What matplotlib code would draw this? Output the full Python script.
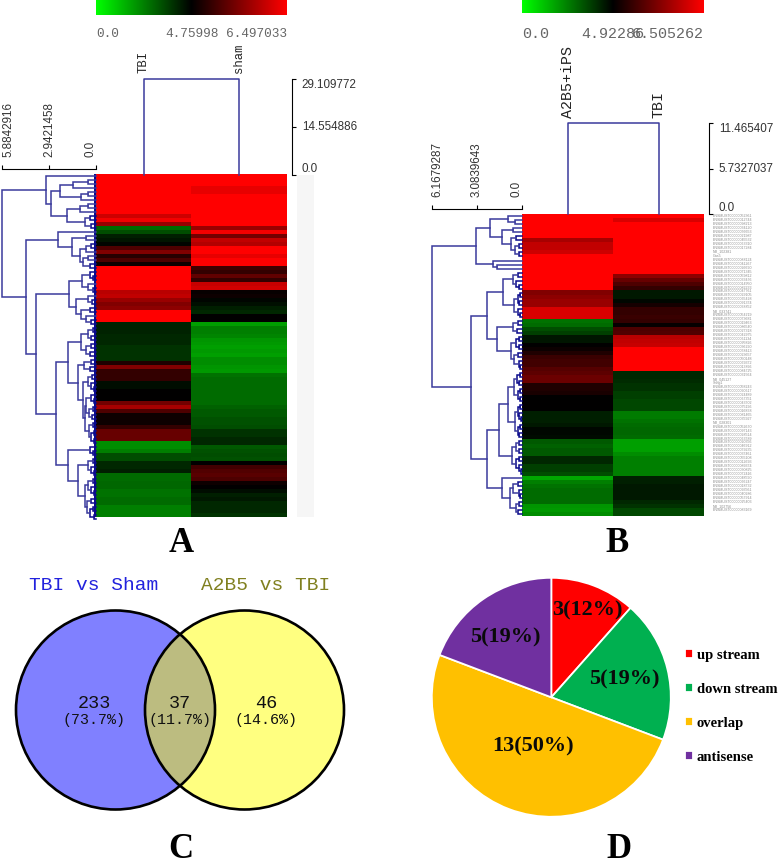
import matplotlib
matplotlib.use("Agg")
import numpy as np
import matplotlib.pyplot as plt
from matplotlib.colors import LinearSegmentedColormap
from matplotlib.patches import Circle, Rectangle

# Heatmap rows, -1 is full green, 0 black, 1 full red
heat_a_tbi = [1, 1, 1, 1, 1, 1, 1, 1, 1, 1, .8, .95, .6,
              -.42, -.3, -.12, -.08, -.02, .3, .5, .15, .3, .05,
              1, 1, 1, 1, 1, 1, .72, .75, .6, .5, .55, 1, 1, 1,
              -.14, -.14, -.14, -.15, -.15, -.15, -.2, -.2, -.2, -.2,
              .12, .5, .2, .2, .2, -.05, -.05, 0, 0, 0, .45, .65, .3,
              .05, .05, .05, .2, .4, .4, .4, -.55, -.55, -.5, -.3, -.3,
              -.15, -.15, -.12, -.42, -.42, -.4, -.4, -.45, -.45, -.42,
              -.42, -.5, -.5, -.5]
heat_a_sham = [1, 1, 1, .9, .9, 1, 1, 1, 1, 1, 1, 1, 1,
               .6, .95, .45, .75, .7, 1, 1, .9, 1, 1,
               .25, .2, .38, .2, .78, .82, .03, .05, -.02, -.06, -.12,
               -.15, 0, 0, -.62, -.5, -.5, -.52, -.58, -.6, -.62, -.6,
               -.62, -.55, -.55, -.58, -.6, -.45, -.42, -.42, -.42, -.42,
               -.42, -.42, -.42, -.38, -.35, -.35, -.32, -.32, -.3, -.2,
               -.2, -.15, -.15, -.35, -.32, -.3, -.32, 0, .25, .32, .35,
               .3, .05, 0, -.05, -.12, -.1, -.15, -.15, -.15, -.2, -.2, -.2][:86]
heat_b_ips = [1, 1, 1, 1, 1, 1, .65, .75, .75, .8, 1, 1, 1, 1, 1, 1, 1, 1, 1,
              .5, .55, .6, .6, .85, .85, .85, -.45, -.42, -.3, -.25, -.08,
              -.08, 0, .04, .12, .22, .25, .25, .33, .36, .42, .42, .12,
              .12, .1, 0, 0, 0, 0, -.12, -.12, -.12, -.1, -.03, -.03, -.04,
              -.35, -.38, -.35, -.35, -.15, -.15, -.25, -.25, -.3, -.65,
              -.5, -.45, -.42, -.42, -.42, -.42, -.58, -.6, -.55]
heat_b_tbi = [1, .85, 1, 1, 1, 1, 1, 1, 1, 1, 1, 1, 1, 1, 1, .55, .4, .3, .2,
              -.1, -.1, -.03, .08, .2, .2, .22, .2, .02, .3, .32, .72, .75,
              .78, 1, 1, 1, 1, 1, 1, -.15, -.15, -.17, -.2, -.2, -.25, -.25,
              -.28, -.28, -.28, -.48, -.48, -.45, -.42, -.4, -.4, -.42,
              -.62, -.62, -.62, -.55, -.5, -.5, -.5, -.5, -.5, -.12, -.12,
              -.1, -.1, -.1, -.1, -.15, -.2, -.28, -.28]

# Row dendrograms, each node is (height, upper, lower) and 0 is a leaf
tree_a = (5.8842916,
          (3.12, 0,
           (2.83,
            (2.25, (1.44, (.5, 0, 0), 0), (.94, (.5, 0, 0), 0)),
            (1.8, (1.0, (.5, 0, 0), 0), (.7, (.4, 0, 0), (.3, 0, 0))))),
          (4.38,
           (2.38, 0,
            (1.5, (.6, 0, 0),
             (1.0, (.6, (.3, 0, 0), 0), (.8, (.5, 0, 0), (.4, 0, 0))))),
           (3.78,
            (1.69,
             (.88, (.4, 0, (.2, 0, 0)), (.5, 0, (.2, 0, 0))),
             (1.25, (.5, 0, (.25, 0, 0)),
              (.95, (.4, 0, 0), (.6, 0, (.3, 0, 0))))),
            (2.5,
             (1.75,
              (.94, (.5, (.2, 0, 0), (.3, 0, 0)), (.6, (.3, 0, 0), (.35, 0, 0))),
              (1.1,
               (.75, (.3, 0, 0), (.4, 0, 0)),
               (.8,
                (.5, (.25, 0, 0), (.3, 0, (.15, 0, 0))),
                (.7,
                 (.65, (.3, 0, (.15, 0, 0)), (.45, (.2, 0, 0), (.25, 0, 0))),
                 (.45, (.2, 0, 0), (.3, (.15, 0, 0), (.1, 0, 0))))))),
             (1.75,
              (.4, 0, (.2, 0, 0)),
              (1.15,
               (.5, (.2, 0, 0), (.3, 0, (.15, 0, 0))),
               (.7, (.5, (.2, 0, 0), (.3, 0, (.15, 0, 0))),
                (.55, (.3, 0, 0), (.35, (.2, 0, 0), (.15, 0, 0))))))))))
tree_b = (6.1679287,
          (3.14,
           (2.2,
            (.95, 0, (.5, 0, 0)),
            (1.37, (.6, 0, 0), (.8, (.4, 0, 0), (.5, (.2, 0, 0), (.25, 0, 0))))),
           (2.0, 0, (1.7, 0, 0))),
          (3.5,
           (2.4,
            (1.3,
             (.65, (.3, 0, 0), (.4, 0, (.2, 0, 0))),
             (.55, (.3, (.15, 0, 0), (.2, 0, 0)), (.3, 0, (.15, 0, 0)))),
            (1.7,
             (.6, (.3, 0, 0), (.35, 0, 0)),
             (.8, (.4, (.2, 0, 0), (.2, 0, 0)), (.55, (.3, 0, 0), (.25, 0, (.15, 0, 0)))))),
           (2.4,
            (1.57,
             (1.0,
              (.55, (.35, (.15, 0, 0), (.2, 0, 0)), (.3, (.15, 0, 0), (.15, 0, 0))),
              (.5, (.3, (.15, 0, 0), (.2, 0, (.1, 0, 0))), (.3, (.15, 0, 0), (.2, 0, 0)))),
             (.7, (.45, (.2, 0, 0), (.25, 0, 0)), (.4, (.2, 0, 0), (.25, 0, (.12, 0, 0))))),
            (1.37, 0,
             (.85,
              (.6, (.3, 0, 0), (.25, 0, (.15, 0, 0))),
              (.45, (.25, 0, 0), (.3, 0, 0)))))))

samples_a = ["TBI", "sham"]
samples_b = ["A2B5+iPS", "TBI"]
col_height_a = 29.109772
col_height_b = 11.465407
left_ticks_a = [5.8842916, 2.9421458, 0.0]
left_ticks_b = [6.1679287, 3.0839643, 0.0]
top_ticks_a = [0.0, 14.554886, 29.109772]
top_ticks_b = [0.0, 5.7327037, 11.465407]
bar_labels_a = ["0.0", "4.75998", "6.497033"]
bar_labels_b = ["0.0", "4.92286", "6.505262"]

# These are too small to read in the source, the names are only placeholders
row_suffix_b = """052361 012744 098213 034120 076653 021987 045532 063310 017284
NR_102381 Gas5 088124 041267 026690 071345 059812 033476 014950 082233 047761
029105 065428 091374 038852 NR_033741 054219 073681 019463 086540 027318
042975 061134 095826 036290 078413 023657 050148 069372 013896 084725 031564
NR_045127 Snhg1 058243 090617 024489 067351 043702 075196 016838 081465 035927
NR_028301 052670 097143 028514 063789 020356 046912 079235 037461 055108
012693 089374 030825 072416 048590 066247 018732 093561 040286 057914 025403
NR_102756 083169""".split()

venn_titles = ["TBI vs Sham", "A2B5 vs TBI"]
venn_counts = [233, 37, 46]
venn_percents = ["(73.7%)", "(11.7%)", "(14.6%)"]

pie_values = [3, 5, 13, 5]
pie_labels = ["3(12%)", "5(19%)", "13(50%)", "5(19%)"]
pie_names = ["up stream", "down stream", "overlap", "antisense"]
pie_colors = ["#ff0000", "#00b050", "#ffc000", "#7030a0"]

W, H = 780, 865
MONO = "Liberation Mono"
SERIF = "Liberation Serif"
TREE = "#3a3a9c"
TIP = "#0a0a8c"

plt.rcParams["font.family"] = "Liberation Sans"
fig = plt.figure(figsize=(W / 100, H / 100), dpi=100, facecolor="white")
green_red = LinearSegmentedColormap.from_list("gr", ["#00ff00", "#000000", "#ff0000"])


def px_axes(x0, y0, x1, y1):
    return fig.add_axes([x0 / W, 1 - y1 / H, (x1 - x0) / W, (y1 - y0) / H])


def draw_tree(ax, node, counter):
    """Draws a node sideways, returns its row position and height"""
    if node == 0:
        counter[0] += 1
        return counter[0] - .5, 0.0
    h, upper, lower = node
    y0, h0 = draw_tree(ax, upper, counter)
    y1, h1 = draw_tree(ax, lower, counter)
    c = TIP if h < .45 else TREE
    ax.plot([h0, h, h, h1], [y0, y0, y1, y1], color=c, lw=1.1, clip_on=False,
            solid_joinstyle="miter")
    return (y0 + y1) / 2, h


def heat_panel(box, left, mid, right, bar_h, col1, col2, tree, samples, col_height,
               left_ticks, top_ticks, bar_labels, size, fringe):
    x0, y0, x1, y1 = box
    ax = px_axes(x0, y0, x1, y1)
    rows = np.array([col1, col2]).T
    ax.imshow(rows, cmap=green_red, vmin=-1, vmax=1, aspect="auto", interpolation="nearest")
    ax.axis("off")

    # row tree, its scale is a real axis along the top
    axl = px_axes(left, y0, x0, y1)
    axl.patch.set_visible(False)
    counter = [0]
    draw_tree(axl, tree, counter)
    if fringe:
        # panel A has far more genes than rows here, their tips merge into a solid edge
        axl.fill_betweenx([0, len(col1)], 0, fringe, color=TIP, lw=0)
    axl.set_xlim(left_ticks[0], 0)
    axl.set_ylim(len(col1), 0)
    for s in ["left", "right", "bottom"]:
        axl.spines[s].set_visible(False)
    axl.spines["top"].set_position(("outward", 3.6))
    axl.spines["top"].set_linewidth(.8)
    axl.set_yticks([])
    axl.xaxis.tick_top()
    axl.set_xticks(left_ticks)
    axl.set_xticklabels([repr(t) for t in left_ticks], rotation=90, fontsize=8.4, color="#333333")
    axl.tick_params(axis="x", length=3, width=.8, pad=6)
    for lab, ha in zip(axl.get_xticklabels(), ["left", "center", "right"]):
        lab.set_ha(ha)

    # column tree
    axt = px_axes(x0, y0 - mid, x1, y0)
    axt.patch.set_visible(False)
    axt.plot([.5, .5, 1.5, 1.5], [0, col_height, col_height, 0], color=TREE, lw=1.1, clip_on=False)
    axt.set_xlim(0, 2)
    axt.set_ylim(0, col_height)
    for s in ["left", "top", "bottom"]:
        axt.spines[s].set_visible(False)
    axt.spines["right"].set_position(("outward", 3.6))
    axt.spines["right"].set_linewidth(.8)
    axt.yaxis.tick_right()
    axt.set_yticks(top_ticks)
    axt.set_yticklabels([repr(t) for t in top_ticks], fontsize=8.4, color="#333333")
    axt.tick_params(axis="y", length=3, width=.8, pad=4)
    for lab, va in zip(axt.get_yticklabels(), ["bottom", "center", "top"]):
        lab.set_va(va)
    axt.xaxis.tick_top()
    axt.set_xticks([.5, 1.5])
    axt.set_xticklabels(samples, rotation=90, fontsize=size, family=MONO, color="#222222")
    axt.tick_params(axis="x", length=0, pad=4)

    # colour key
    axb = px_axes(x0, 0, x1, bar_h)
    axb.imshow(np.linspace(-1, 1, 256).reshape(1, -1), cmap=green_red, aspect="auto",
               extent=[0, 1, 0, 1])
    axb.set_yticks([])
    axb.set_xticks([0, .5, 1])
    axb.set_xticklabels(bar_labels, family=MONO, fontsize=right, color="#666666")
    axb.tick_params(axis="x", length=0, pad=9.6)
    for lab, ha in zip(axb.get_xticklabels(), ["left", "center", "right"]):
        lab.set_ha(ha)
    for s in axb.spines.values():
        s.set_visible(False)


heat_panel((96, 174.5, 287, 516.7), 2, 95.5, 9.15, 15, heat_a_tbi, heat_a_sham, tree_a,
           samples_a, col_height_a, left_ticks_a, top_ticks_a, bar_labels_a, 8.8, .12)
heat_panel((522.3, 214.3, 704, 515.7), 431.7, 91, 10.8, 13.3, heat_b_ips, heat_b_tbi, tree_b,
           samples_b, col_height_b, left_ticks_b, top_ticks_b, bar_labels_b, 10.8, 0)

# overlay in image pixels for the hand placed pieces
ov = fig.add_axes([0, 0, 1, 1], zorder=5)
ov.patch.set_visible(False)
ov.set_xlim(0, W)
ov.set_ylim(H, 0)
ov.axis("off")

ov.add_patch(Rectangle((297, 174.5), 17, 342, facecolor="#f6f6f6", edgecolor="none"))
for i, s in enumerate(row_suffix_b):
    name = s if not s.isdigit() else "ENSMUST00000" + s
    ov.text(713, 216 + i * (298 / len(row_suffix_b)), name, fontsize=2.6, color="#8c8c8c",
            va="center", ha="left")

# venn
c1 = (115.5, 710)
c2 = (244.5, 710)
r = 99.5
left_fill = ov.add_patch(Circle(c1, r, facecolor="#8080ff", edgecolor="none"))
right_fill = ov.add_patch(Circle(c2, r, facecolor="#ffff80", edgecolor="none"))
lens = ov.add_patch(Circle(c1, r, facecolor="#bcbc80", edgecolor="none"))
lens.set_clip_path(Circle(c2, r, transform=ov.transData))
for c in [c1, c2]:
    ov.add_patch(Circle(c, r, facecolor="none", edgecolor="black", lw=1.9))
ov.text(94, 585, venn_titles[0], family=MONO, fontsize=14, color="#2222dd", ha="center", va="center")
ov.text(266, 585, venn_titles[1], family=MONO, fontsize=14, color="#808020", ha="center", va="center")
for x, n, p in zip([94, 180, 266], venn_counts, venn_percents):
    ov.text(x, 703, str(n), family=MONO, fontsize=13.3, color="#111111", ha="center", va="center")
    ov.text(x, 720, p, family=MONO, fontsize=10.8, color="#111111", ha="center", va="center")

# pie
cx, cy, pr = 551.3, 697.3, 119.5 * 1.01
axp = px_axes(cx - pr, cy - pr, cx + pr, cy + pr)
wedges, _ = axp.pie(pie_values, colors=pie_colors, startangle=90, counterclock=False,
                    wedgeprops={"edgecolor": "white", "linewidth": 1.3})
axp.set_xlim(-1.01, 1.01)
axp.set_ylim(-1.01, 1.01)
for (x, y), lab in zip([(587, 610), (624, 679), (533, 746), (505, 637)], pie_labels):
    ov.text(x, y, lab, family=SERIF, fontweight="bold", fontsize=16, color="#0a0a0a",
            ha="center", va="center")
fig.legend(wedges, pie_names, loc="upper left", bbox_to_anchor=(685 / W, 1 - 648.5 / H),
           frameon=False, handlelength=.55, handleheight=.55, handletextpad=.27,
           labelspacing=1.45, borderpad=0, borderaxespad=0,
           prop={"family": SERIF, "weight": "bold", "size": 10.5})

# panel letters
for x, y, letter in [(181, 543, "A"), (617, 543, "B"), (181, 849, "C"), (619, 849, "D")]:
    ov.text(x, y, letter, family=SERIF, fontweight="bold", fontsize=25, color="black",
            ha="center", va="center")

fig.savefig("out.png", dpi=100)
